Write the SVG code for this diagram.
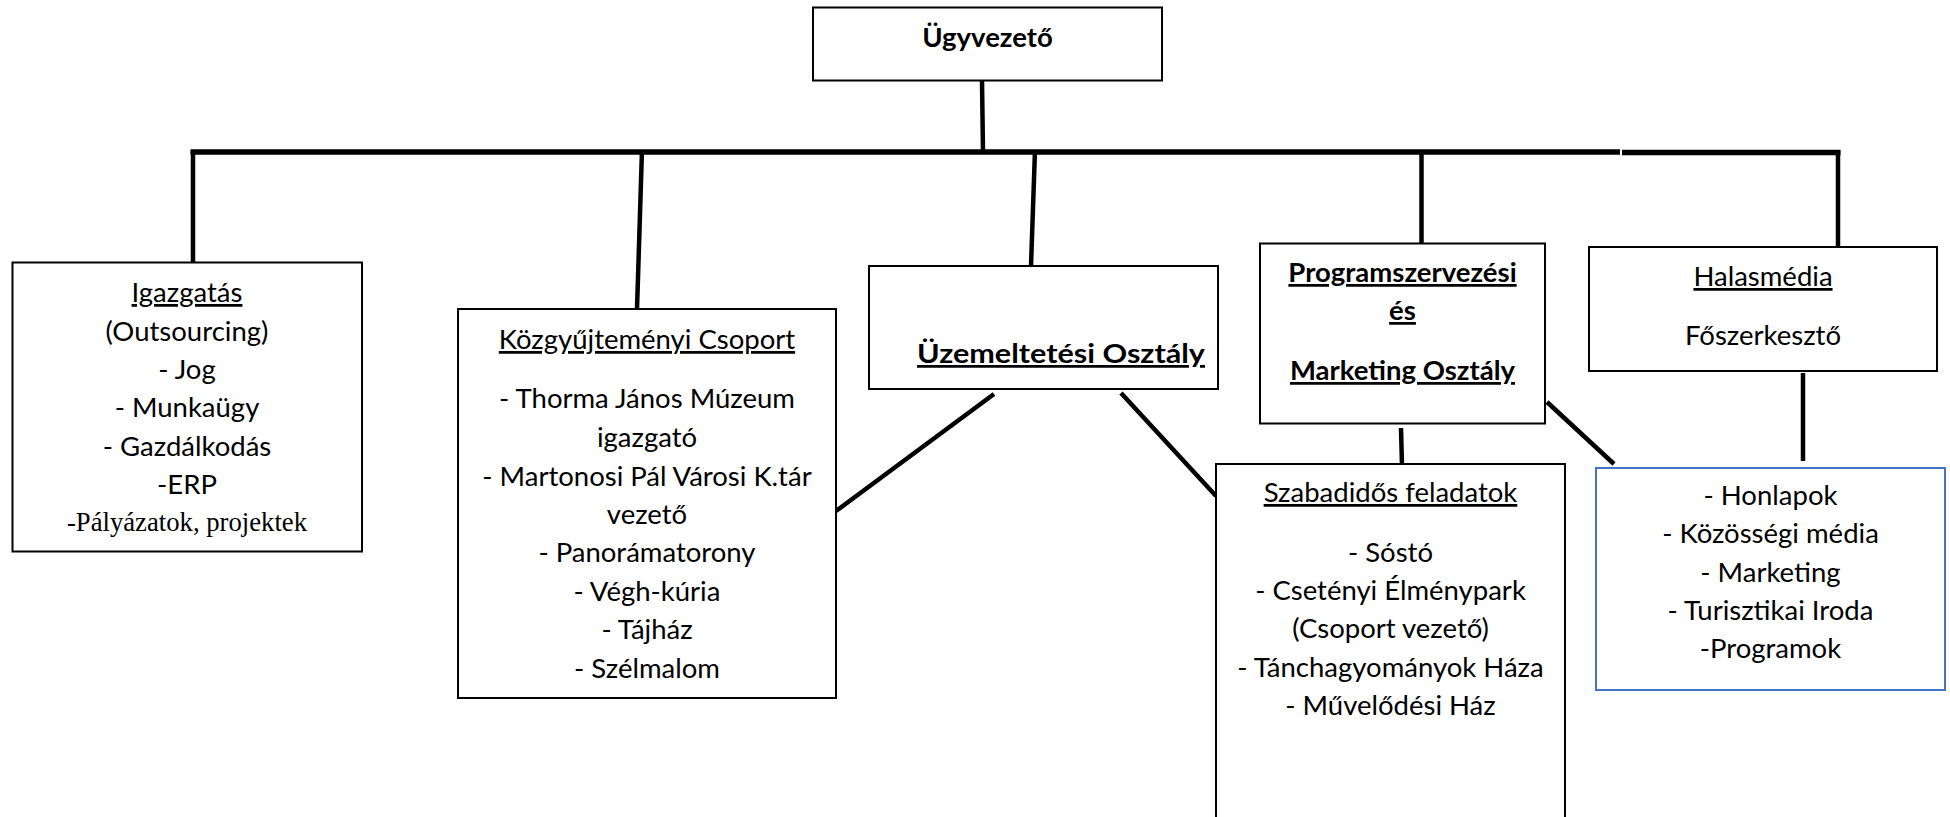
<svg xmlns="http://www.w3.org/2000/svg" width="1950" height="817" viewBox="0 0 1950 817">
<style>
.box{fill:#fff;stroke:#000;stroke-width:2}
.blue{fill:#fff;stroke:#4472C4;stroke-width:2}
.t{font-family:Lato,"Carlito","Liberation Sans",sans-serif;font-size:27.5px;fill:#000;text-anchor:middle}
.b{font-weight:700}
.u{text-decoration:underline}
.s{font-family:"Liberation Serif","Times New Roman",serif;font-size:26.7px;fill:#000;text-anchor:middle}
.c{stroke:#000;stroke-width:4.5;fill:none;stroke-linecap:butt}
.bus{stroke:#000;stroke-width:5.5;fill:none}
</style>
<rect width="1950" height="817" fill="#fff"/>
<g id="connectors">
<line class="c" x1="982" y1="81" x2="983" y2="152"/>
<line class="bus" x1="190.5" y1="152" x2="1620" y2="152"/>
<line class="bus" x1="1622" y1="152.5" x2="1840.5" y2="152.5"/>
<line class="c" x1="193" y1="150" x2="193" y2="262"/>
<line class="c" x1="642" y1="150" x2="637" y2="309"/>
<line class="c" x1="1035" y1="150" x2="1031" y2="266"/>
<line class="c" x1="1421.5" y1="150" x2="1421.5" y2="243"/>
<line class="c" x1="1838" y1="150" x2="1838" y2="253"/>
<line class="c" x1="994" y1="394" x2="836" y2="511"/>
<line class="c" x1="1121" y1="393" x2="1216" y2="496"/>
<line class="c" x1="1401" y1="428" x2="1402" y2="466"/>
<line class="c" x1="1547" y1="402" x2="1614" y2="464"/>
<line class="c" x1="1803" y1="373" x2="1803" y2="461"/>
</g>
<g id="ugyvezeto">
<rect class="box" x="813" y="7.5" width="349" height="73"/>
<text class="t b" x="987.5" y="47">Ügyvezető</text>
</g>
<g id="igazgatas">
<rect class="box" x="12.5" y="262.5" width="349.5" height="289"/>
<text class="t u" x="187" y="302">Igazgatás</text>
<text class="t" x="187" y="340.5">(Outsourcing)</text>
<text class="t" x="187" y="379">- Jog</text>
<text class="t" x="187" y="417">- Munkaügy</text>
<text class="t" x="187" y="455.5">- Gazdálkodás</text>
<text class="t" x="187" y="494">-ERP</text>
<text class="s" x="187" y="531">-Pályázatok, projektek</text>
</g>
<g id="kozgyujtemenyi">
<rect class="box" x="458" y="309" width="378" height="389"/>
<text class="t u" x="647" y="349">Közgyűjteményi Csoport</text>
<text class="t" x="647" y="408">- Thorma János Múzeum</text>
<text class="t" x="647" y="447">igazgató</text>
<text class="t" x="647" y="486">- Martonosi Pál Városi K.tár</text>
<text class="t" x="647" y="524">vezető</text>
<text class="t" x="647" y="562">- Panorámatorony</text>
<text class="t" x="647" y="601">- Végh-kúria</text>
<text class="t" x="647" y="639">- Tájház</text>
<text class="t" x="647" y="678">- Szélmalom</text>
</g>
<g id="uzemeltetesi">
<rect class="box" x="869" y="266" width="349" height="123"/>
<text class="t b u" x="1061" y="363" textLength="288" lengthAdjust="spacingAndGlyphs">Üzemeltetési Osztály</text>
</g>
<g id="programszervezesi">
<rect class="box" x="1260" y="243.5" width="285" height="180"/>
<text class="t b u" x="1402.5" y="282">Programszervezési</text>
<text class="t b u" x="1402.5" y="320">és</text>
<text class="t b u" x="1402.5" y="380">Marketing Osztály</text>
</g>
<g id="halasmedia">
<rect class="box" x="1589" y="247" width="348" height="124"/>
<text class="t u" x="1763" y="286">Halasmédia</text>
<text class="t" x="1763" y="345">Főszerkesztő</text>
</g>
<g id="szabadidos">
<rect class="box" x="1216" y="464" width="349" height="380"/>
<text class="t u" x="1390.5" y="502">Szabadidős feladatok</text>
<text class="t" x="1390.5" y="562">- Sóstó</text>
<text class="t" x="1390.5" y="600">- Csetényi Élménypark</text>
<text class="t" x="1390.5" y="638">(Csoport vezető)</text>
<text class="t" x="1390.5" y="677">- Tánchagyományok Háza</text>
<text class="t" x="1390.5" y="715">- Művelődési Ház</text>
</g>
<g id="halasmedia-feladatok">
<rect class="blue" x="1596" y="468" width="349" height="222"/>
<text class="t" x="1770.5" y="505">- Honlapok</text>
<text class="t" x="1770.5" y="543">- Közösségi média</text>
<text class="t" x="1770.5" y="582">- Marketing</text>
<text class="t" x="1770.5" y="620">- Turisztikai Iroda</text>
<text class="t" x="1770.5" y="658">-Programok</text>
</g>
</svg>
